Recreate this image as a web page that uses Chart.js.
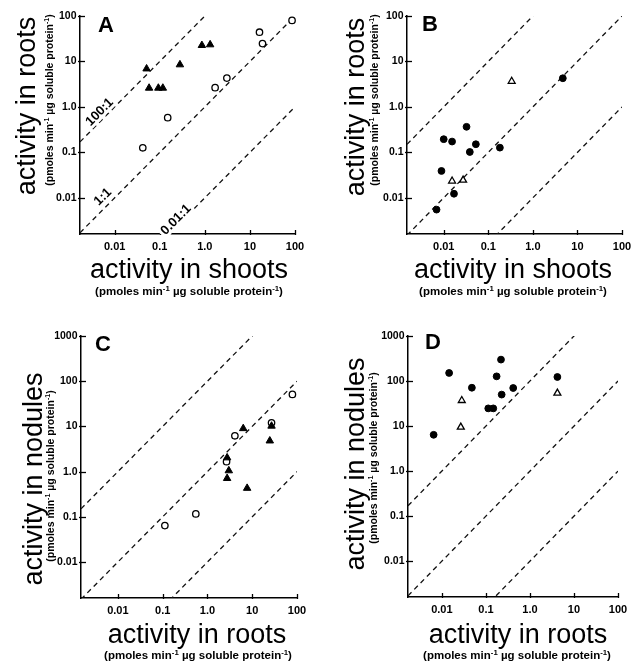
<!DOCTYPE html>
<html>
<head>
<meta charset="utf-8">
<script src="https://cdn.jsdelivr.net/npm/chart.js@4.4.0/dist/chart.umd.min.js"></script>
<style>
html,body{margin:0;padding:0;background:#fff;}
#wrap{position:relative;width:640px;height:665px;overflow:hidden;background:#fff;}
canvas{position:absolute;display:block;}
</style>
</head>
<body>
<div id="wrap">
<canvas id="cA" width="320" height="320" style="left:0;top:0"></canvas>
<canvas id="cB" width="320" height="320" style="left:320px;top:0"></canvas>
<canvas id="cC" width="320" height="345" style="left:0;top:320px"></canvas>
<canvas id="cD" width="320" height="345" style="left:320px;top:320px"></canvas>
</div>
<script>
// ---------- tick values / labels ----------
const xTickVals = [0.01, 0.1, 1, 10, 100];
const xTickText = ['0.01', '0.1', '1.0', '10', '100'];
const yTickValsAB = [0.01, 0.1, 1, 10, 100];
const yTickTextAB = ['0.01', '0.1', '1.0', '10', '100'];
const yTickValsCD = [0.01, 0.1, 1, 10, 100, 1000];
const yTickTextCD = ['0.01', '0.1', '1.0', '10', '100', '1000'];

// ---------- reference ratio lines ----------
const ratioValues = [100, 1, 0.01];
const ratioText = ['100:1', '1:1', '0.01:1'];

// ---------- Panel A: roots vs shoots ----------
const aTriShoots = [0.051, 0.058, 0.093, 0.117, 0.28, 0.86, 1.31];
const aTriRoots  = [6.9, 2.6, 2.6, 2.6, 8.5, 22.6, 23.4];
const aCircShoots = [0.042, 0.15, 1.69, 3.08, 16.3, 19, 86];
const aCircRoots  = [0.126, 0.58, 2.65, 4.3, 44, 24.7, 80];

// ---------- Panel B: roots vs shoots ----------
const bDotShoots = [0.0069, 0.0089, 0.010, 0.0154, 0.017, 0.0325, 0.0385, 0.0526, 0.182, 4.7];
const bDotRoots  = [0.0055, 0.039, 0.195, 0.173, 0.0123, 0.365, 0.102, 0.151, 0.127, 4.27];
const bTriShoots = [0.0154, 0.0272, 0.335];
const bTriRoots  = [0.0234, 0.0246, 3.66];

// ---------- Panel C: nodules vs roots ----------
const cCircRoots   = [0.112, 0.55, 2.67, 4.1, 27, 79];
const cCircNodules = [0.064, 0.116, 1.66, 6.2, 12, 51];
const cTriRoots    = [2.75, 3.0, 2.75, 6.3, 7.7, 24.7, 27];
const cTriNodules  = [2.03, 1.05, 0.71, 9.0, 0.43, 4.8, 10.2];

// ---------- Panel D: nodules vs roots ----------
const dDotRoots   = [0.0065, 0.0146, 0.048, 0.113, 0.147, 0.175, 0.22, 0.228, 0.417, 4.2];
const dDotNodules = [6.4, 151, 71, 24.7, 24.7, 127, 299, 50, 70, 123];
const dTriRoots   = [0.0283, 0.0269, 4.2];
const dTriNodules = [37, 9.5, 54];

// ---------- helpers ----------
const FONT = '"Liberation Sans", Arial, Helvetica, sans-serif';
function pts(xs, ys) { return xs.map((x, i) => ({ x: x, y: ys[i] })); }
function labelFor(vals, texts, v) {
  const i = vals.findIndex(t => Math.abs(Math.log10(t) - Math.log10(v)) < 1e-6);
  return i >= 0 ? texts[i] : '';
}
const STY = {
  triFilled:  { pointStyle: 'triangle', pointRadius: 4.3, pointBackgroundColor: '#000', pointBorderColor: '#000', pointBorderWidth: 1 },
  circOpen:   { pointStyle: 'circle',   pointRadius: 3.2, pointBackgroundColor: '#fff', pointBorderColor: '#000', pointBorderWidth: 1.3 },
  dotFilled:  { pointStyle: 'circle',   pointRadius: 3.4, pointBackgroundColor: '#000', pointBorderColor: '#000', pointBorderWidth: 1 },
  triOpen:    { pointStyle: 'triangle', pointRadius: 4.0, pointBackgroundColor: '#fff', pointBorderColor: '#000', pointBorderWidth: 1.3 }
};
const SUB_RUNS = [['(pmoles min', false], ['-1', true], [' \u00b5g soluble protein', false], ['-1', true], [')', false]];

function drawRich(ctx, runs, size) {
  // draws centred at origin, baseline y=0
  const main = 'bold ' + size + 'px ' + FONT;
  const sup = 'bold ' + (size * 0.68).toFixed(1) + 'px ' + FONT;
  let total = 0;
  const widths = runs.map(r => { ctx.font = r[1] ? sup : main; const w = ctx.measureText(r[0]).width; total += w; return w; });
  let x = -total / 2;
  ctx.textAlign = 'left';
  ctx.textBaseline = 'alphabetic';
  runs.forEach((r, i) => {
    ctx.font = r[1] ? sup : main;
    ctx.fillText(r[0], x, r[1] ? -size * 0.38 : 0);
    x += widths[i];
  });
}

function decor(P) {
  return {
    id: 'decor' + P.letter,
    afterDraw(chart) {
      const ctx = chart.ctx, ca = chart.chartArea;
      const xs = chart.scales.x, ys = chart.scales.y;
      ctx.save();
      ctx.strokeStyle = '#000';
      ctx.fillStyle = '#000';
      ctx.lineWidth = 1.3;
      // inward tick marks
      P.xTicks.forEach(v => {
        const px = Math.round(xs.getPixelForValue(v)) + 0.5;
        ctx.beginPath(); ctx.moveTo(px, ca.bottom + 1); ctx.lineTo(px, ca.bottom - 4); ctx.stroke();
      });
      P.yTicks.forEach(v => {
        const py = Math.round(ys.getPixelForValue(v)) + 0.5;
        ctx.beginPath(); ctx.moveTo(ca.left - 2, py); ctx.lineTo(ca.left + 5, py); ctx.stroke();
      });
      // ratio labels (panel A)
      if (P.ratioLabels) {
        P.ratioLabels.forEach(L => {
          const k = ratioValues[L.line];
          const x1 = xs.getPixelForValue(L.at), y1 = ys.getPixelForValue(k * L.at);
          const x2 = xs.getPixelForValue(L.at * 10), y2 = ys.getPixelForValue(k * L.at * 10);
          const ang = Math.atan2(y2 - y1, x2 - x1);
          ctx.save();
          ctx.translate(x1, y1);
          ctx.rotate(ang);
          ctx.font = 'bold 13px ' + FONT;
          ctx.textAlign = 'center';
          ctx.textBaseline = 'middle';
          ctx.lineWidth = 6;
          ctx.strokeStyle = '#fff';
          ctx.lineJoin = 'round';
          ctx.strokeText(ratioText[L.line], 0, -L.off);
          ctx.fillText(ratioText[L.line], 0, -L.off);
          ctx.restore();
        });
      }
      // panel letter
      ctx.font = 'bold 22px ' + FONT;
      ctx.textAlign = 'center';
      ctx.textBaseline = 'middle';
      ctx.fillText(P.letter, P.letterPos[0], P.letterPos[1]);
      // x title
      ctx.font = '27px ' + FONT;
      ctx.textAlign = 'center';
      ctx.textBaseline = 'alphabetic';
      ctx.fillText(P.xTitle, P.xTitlePos[0], P.xTitlePos[1]);
      ctx.save();
      ctx.translate(P.xSubPos[0], P.xSubPos[1]);
      drawRich(ctx, SUB_RUNS, 11.5);
      ctx.restore();
      // y title
      ctx.save();
      ctx.translate(P.yTitlePos[0], P.yTitlePos[1]);
      ctx.rotate(-Math.PI / 2);
      ctx.font = '27px ' + FONT;
      ctx.textAlign = 'center';
      ctx.textBaseline = 'alphabetic';
      ctx.fillText(P.yTitle, 0, 0);
      ctx.restore();
      ctx.save();
      ctx.translate(P.ySubPos[0], P.ySubPos[1]);
      ctx.rotate(-Math.PI / 2);
      drawRich(ctx, SUB_RUNS, 10.5);
      ctx.restore();
      ctx.restore();
    }
  };
}

function makePanel(id, P) {
  const datasets = [];
  ratioValues.forEach(k => datasets.push({
    type: 'line', order: 5,
    data: [{ x: P.xmin, y: k * P.xmin }, { x: P.xmax, y: k * P.xmax }],
    borderColor: '#111', borderWidth: 1.3, borderDash: [5, 4],
    pointRadius: 0, fill: false, showLine: true, tension: 0
  }));
  P.series.forEach((s, i) => datasets.push(Object.assign({ type: 'scatter', order: 2 - i, clip: false, data: pts(s.x, s.y) }, STY[s.style])));
  const xFont = { family: FONT, size: 11, weight: 'bold' };
  const yFont = { family: FONT, size: 10.5, weight: 'bold' };
  new Chart(document.getElementById(id), {
    type: 'scatter',
    data: { datasets: datasets },
    options: {
      responsive: false, animation: false, events: [],
      plugins: { legend: { display: false }, tooltip: { enabled: false } },
      layout: { padding: { top: P.top, right: P.w - P.right, left: 0, bottom: 0 } },
      scales: {
        x: {
          type: 'logarithmic', min: P.xmin, max: P.xmax,
          afterFit(s) { s.height = P.h - P.bottom; },
          afterBuildTicks(s) { s.ticks = P.xTicks.map(v => ({ value: v })); },
          ticks: { callback: v => labelFor(P.xTicks, P.xText, v), font: xFont, color: '#000', padding: 6, maxRotation: 0, autoSkip: false },
          grid: { drawOnChartArea: false, drawTicks: false },
          border: { display: true, color: '#000', width: 1.5 }
        },
        y: {
          type: 'logarithmic', min: P.ymin, max: P.ymax,
          afterFit(s) { s.width = P.left; },
          afterBuildTicks(s) { s.ticks = P.yTicks.map(v => ({ value: v })); },
          ticks: { callback: v => labelFor(P.yTicks, P.yText, v), font: yFont, color: '#000', padding: 3.5, autoSkip: false },
          grid: { drawOnChartArea: false, drawTicks: false },
          border: { display: true, color: '#000', width: 1.5 }
        }
      }
    },
    plugins: [decor(P)]
  });
}

makePanel('cA', {
  letter: 'A', w: 320, h: 320, left: 80, right: 295, top: 16, bottom: 234,
  xmin: 0.0017, xmax: 100, ymin: 0.0016, ymax: 100,
  xTicks: xTickVals, xText: xTickText, yTicks: yTickValsAB, yText: yTickTextAB,
  letterPos: [106, 26], xTitle: 'activity in shoots', yTitle: 'activity in roots',
  xTitlePos: [189, 278], xSubPos: [189, 295], yTitlePos: [35, 106], ySubPos: [53, 100],
  ratioLabels: [{ line: 0, at: 0.006, off: 7 }, { line: 1, at: 0.0076, off: 9 }, { line: 2, at: 0.275, off: 5 }],
  series: [
    { x: aCircShoots, y: aCircRoots, style: 'circOpen' },
    { x: aTriShoots, y: aTriRoots, style: 'triFilled' }
  ]
});

makePanel('cB', {
  letter: 'B', w: 320, h: 320, left: 87, right: 302, top: 16, bottom: 234,
  xmin: 0.0015, xmax: 100, ymin: 0.0016, ymax: 100,
  xTicks: xTickVals, xText: xTickText, yTicks: yTickValsAB, yText: yTickTextAB,
  letterPos: [110, 25], xTitle: 'activity in shoots', yTitle: 'activity in roots',
  xTitlePos: [193, 278], xSubPos: [193, 295], yTitlePos: [44, 107], ySubPos: [58, 100],
  series: [
    { x: bDotShoots, y: bDotRoots, style: 'dotFilled' },
    { x: bTriShoots, y: bTriRoots, style: 'triOpen' }
  ]
});

makePanel('cC', {
  letter: 'C', w: 320, h: 345, left: 81, right: 297, top: 16, bottom: 278,
  xmin: 0.0015, xmax: 100, ymin: 0.0016, ymax: 1000,
  xTicks: xTickVals, xText: xTickText, yTicks: yTickValsCD, yText: yTickTextCD,
  letterPos: [103, 25], xTitle: 'activity in roots', yTitle: 'activity in nodules',
  xTitlePos: [197, 323], xSubPos: [198, 339], yTitlePos: [42, 159], ySubPos: [53.5, 156],
  series: [
    { x: cCircRoots, y: cCircNodules, style: 'circOpen' },
    { x: cTriRoots, y: cTriNodules, style: 'triFilled' }
  ]
});

makePanel('cD', {
  letter: 'D', w: 320, h: 345, left: 88, right: 298, top: 16, bottom: 277,
  xmin: 0.0017, xmax: 100, ymin: 0.0016, ymax: 1000,
  xTicks: xTickVals, xText: xTickText, yTicks: yTickValsCD, yText: yTickTextCD,
  letterPos: [113, 23], xTitle: 'activity in roots', yTitle: 'activity in nodules',
  xTitlePos: [198, 323], xSubPos: [197, 339], yTitlePos: [44, 144], ySubPos: [57, 138],
  series: [
    { x: dDotRoots, y: dDotNodules, style: 'dotFilled' },
    { x: dTriRoots, y: dTriNodules, style: 'triOpen' }
  ]
});
</script>
</body>
</html>
